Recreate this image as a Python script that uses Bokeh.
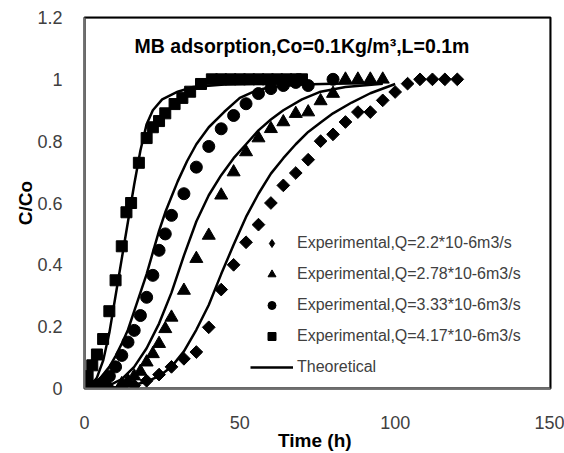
from bokeh.plotting import figure
from bokeh.models import (Range1d, FixedTicker, NumeralTickFormatter, Legend, LegendItem,
                          Label, BoxAnnotation, ColumnDataSource, CDSView, IndexFilter)
from bokeh.embed import file_html
from bokeh.resources import INLINE
import math

# ---- data ----
# Experimental, Q=2.2*10-6 m3/s (diamonds)
t_d = [0, 4, 8, 12, 16, 20, 24, 28, 32, 36, 40, 44, 48, 52, 56, 60, 64, 68, 72, 76,
       80, 84, 88, 92, 96, 100, 104, 108, 112, 116, 120]
c_d = [0, 0, 0, 0.005, 0.01, 0.025, 0.045, 0.07, 0.096, 0.118, 0.198, 0.32, 0.40, 0.473,
       0.53, 0.60, 0.657, 0.697, 0.74, 0.80, 0.822, 0.862, 0.894, 0.894, 0.932, 0.959,
       0.986, 1.0, 1.0, 1.0, 1.0]

# Experimental, Q=2.78*10-6 m3/s (triangles)
t_t = [0, 4, 8, 12, 14, 16, 18, 20, 22, 24, 26, 28, 32, 36, 40, 44, 48, 52, 56, 60, 64,
       68, 72, 76, 80, 84, 88, 92, 96]
c_t = [0, 0, 0.005, 0.015, 0.025, 0.04, 0.055, 0.085, 0.112, 0.145, 0.193, 0.23, 0.317,
       0.42, 0.495, 0.625, 0.70, 0.765, 0.81, 0.84, 0.862, 0.889, 0.894, 0.93, 0.954,
       1.0, 1.0, 1.0, 1.0]

# Experimental, Q=3.33*10-6 m3/s (circles)
t_c = [0, 2, 4, 6, 8, 10, 12, 14, 16, 18, 20, 22, 24, 26, 28, 32, 36, 40, 44, 48, 52,
       56, 60, 64, 68, 72, 80]
c_c = [0, 0.005, 0.01, 0.02, 0.04, 0.07, 0.107, 0.15, 0.188, 0.236, 0.295, 0.366, 0.447,
       0.50, 0.56, 0.63, 0.716, 0.783, 0.84, 0.883, 0.921, 0.954, 0.97, 0.98, 0.99, 0.98, 1.0]

# Experimental, Q=4.17*10-6 m3/s (squares)
t_s = [0, 1, 2.5, 4, 6, 8, 10, 12, 13.5, 15, 17.5, 20, 22, 24, 26, 29, 31.5, 34, 37.5,
       41, 44, 47, 50, 53, 56, 59, 62, 65, 68, 70]
c_s = [0.01, 0.04, 0.075, 0.11, 0.16, 0.25, 0.35, 0.46, 0.57, 0.60, 0.73, 0.81, 0.845,
       0.865, 0.89, 0.92, 0.94, 0.96, 0.985, 1.0, 1.0, 1.0, 1.0, 1.0, 1.0, 1.0, 1.0, 1.0,
       1.0, 1.0]

# Theoretical curves
x_a = [0, 2, 4, 6, 8, 10, 12, 14, 16, 18, 20, 22, 25, 30, 35, 45, 55, 70]
y_a = [0, 0.01, 0.035, 0.09, 0.18, 0.30, 0.42, 0.54, 0.66, 0.77, 0.855, 0.90, 0.935,
       0.96, 0.975, 0.983, 0.986, 0.988]

x_b = [0, 4, 8, 10, 12, 14, 16, 18, 20, 22, 24, 26, 28, 30, 33, 36, 40, 45, 50, 55, 60,
       70, 80, 96]
y_b = [0, 0.02, 0.07, 0.105, 0.145, 0.19, 0.25, 0.31, 0.37, 0.44, 0.51, 0.57, 0.62, 0.67,
       0.735, 0.79, 0.845, 0.895, 0.94, 0.963, 0.975, 0.983, 0.986, 0.988]

x_c = [0, 8, 12, 16, 20, 24, 28, 32, 36, 40, 44, 48, 52, 56, 60, 64, 70, 76, 84, 96]
y_c = [0, 0.01, 0.03, 0.07, 0.13, 0.21, 0.31, 0.43, 0.54, 0.625, 0.69, 0.745, 0.79, 0.835,
       0.87, 0.90, 0.935, 0.96, 0.975, 0.986]

x_d = [0, 12, 16, 20, 24, 28, 32, 36, 40, 44, 48, 52, 56, 60, 64, 68, 72, 76, 80, 86, 92, 100]
y_d = [0, 0.005, 0.012, 0.022, 0.04, 0.07, 0.12, 0.19, 0.27, 0.37, 0.465, 0.555, 0.63,
       0.695, 0.745, 0.79, 0.83, 0.86, 0.89, 0.925, 0.955, 0.985]

x_ticks = [0, 50, 100, 150]
y_ticks = [0, 0.2, 0.4, 0.6, 0.8, 1.0, 1.2]

labels = ["Experimental,Q=2.2*10-6m3/s", "Experimental,Q=2.78*10-6m3/s",
          "Experimental,Q=3.33*10-6m3/s", "Experimental,Q=4.17*10-6m3/s", "Theoretical"]
title_text = "MB adsorption,Co=0.1Kg/m\u00b3,L=0.1m"

FONT = "Liberation Sans"

p = figure(width=564, height=453, output_backend="svg", toolbar_location=None,
           x_range=Range1d(0, 150), y_range=Range1d(0, 1.2),
           min_border_left=84, min_border_right=14, min_border_top=17, min_border_bottom=65)
p.xgrid.visible = False
p.ygrid.visible = False
p.outline_line_color = "black"
p.outline_line_width = 2
p.background_fill_color = "white"
p.border_fill_color = "white"

# plot-area frame
p.add_layout(BoxAnnotation(fill_alpha=0, line_color="black", line_width=2.5,
                           level="underlay"))

for ax in (p.xaxis, p.yaxis):
    ax.major_tick_line_color = None
    ax.minor_tick_line_color = None
    ax.axis_line_color = "#6e6e6e"
    ax.axis_line_width = 2
    ax.major_label_text_font = FONT
    ax.major_label_text_font_size = "18px"
    ax.major_label_text_color = "#404040"
    ax.axis_label_text_font = FONT
    ax.axis_label_text_font_size = "19px"
    ax.axis_label_text_font_style = "bold"
    ax.axis_label_text_color = "black"

p.xaxis.ticker = FixedTicker(ticks=x_ticks)
p.yaxis.ticker = FixedTicker(ticks=y_ticks)
p.xaxis.formatter = NumeralTickFormatter(format="0")
p.yaxis.formatter = NumeralTickFormatter(format="0.[0]")
p.xaxis.axis_label = "Time  (h)"
p.yaxis.axis_label = "C/Co"
p.xaxis.major_label_standoff = 21
p.xaxis.axis_label_standoff = -2
p.yaxis.major_label_standoff = 16
p.yaxis.axis_label_standoff = -2

# theoretical lines
la = p.line(x_a, y_a, line_color="black", line_width=2.5)
lb = p.line(x_b, y_b, line_color="black", line_width=2.5)
lc = p.line(x_c, y_c, line_color="black", line_width=2.5)
ld = p.line(x_d, y_d, line_color="black", line_width=2.5)

# experimental markers
src_d = ColumnDataSource(dict(t=t_d, c=c_d))
# legend key for the diamond series (the legend does not rotate markers); it shows only
# the first diamond point, which the rotated-square marker drawn above it covers
rd_key = p.scatter("t", "c", source=src_d, view=CDSView(filter=IndexFilter(indices=[0])),
                   marker="diamond", size=4, fill_color="black", line_color="black")
rd = p.scatter("t", "c", source=src_d, marker="square", angle=math.pi / 4, size=9,
               fill_color="black", line_color="black")
rt = p.scatter(t_t, c_t, marker="triangle", size=13, fill_color="black", line_color="black")
rc = p.scatter(t_c, c_c, marker="circle", size=12, fill_color="black", line_color="black")
rs = p.scatter(t_s, c_s, marker="square", size=11, fill_color="black", line_color="black")

legend = Legend(items=[LegendItem(label=labels[0], renderers=[rd_key]),
                       LegendItem(label=labels[1], renderers=[rt]),
                       LegendItem(label=labels[2], renderers=[rc]),
                       LegendItem(label=labels[3], renderers=[rs]),
                       LegendItem(label=labels[4], renderers=[la])],
                location=(166, 11), glyph_width=43, glyph_height=20, label_height=20,
                label_standoff=4, spacing=11, padding=0, margin=0,
                border_line_color=None, background_fill_alpha=0,
                label_text_font=FONT, label_text_font_size="16px",
                label_text_color="#404040")
p.add_layout(legend)

title = Label(x=70, y=1.109, text=title_text, text_align="center", text_baseline="middle",
              text_font=FONT, text_font_size="19.5px", text_font_style="bold",
              text_color="black")
p.add_layout(title)

open("out.html", "w").write(file_html(p, INLINE))
